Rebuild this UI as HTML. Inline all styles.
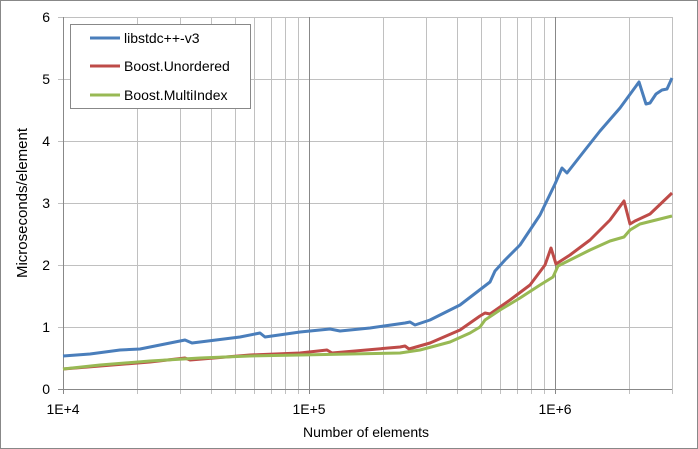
<!DOCTYPE html>
<html><head><meta charset="utf-8"><style>body{margin:0;background:#fff}svg{display:block;font-family:"Liberation Sans",sans-serif}</style></head><body>
<svg width="698" height="449" viewBox="0 0 698 449" xmlns="http://www.w3.org/2000/svg">
<rect x="0.5" y="0.5" width="697" height="448" fill="#fff" stroke="#888"/>
<g stroke="#c0c0c0" stroke-width="1">
<line x1="137.5" y1="17" x2="137.5" y2="394"/><line x1="180.5" y1="17" x2="180.5" y2="394"/><line x1="211.5" y1="17" x2="211.5" y2="394"/><line x1="235.5" y1="17" x2="235.5" y2="394"/><line x1="254.5" y1="17" x2="254.5" y2="394"/><line x1="271.5" y1="17" x2="271.5" y2="394"/><line x1="285.5" y1="17" x2="285.5" y2="394"/><line x1="298.5" y1="17" x2="298.5" y2="394"/>
<line x1="383.5" y1="17" x2="383.5" y2="394"/><line x1="426.5" y1="17" x2="426.5" y2="394"/><line x1="457.5" y1="17" x2="457.5" y2="394"/><line x1="481.5" y1="17" x2="481.5" y2="394"/><line x1="500.5" y1="17" x2="500.5" y2="394"/><line x1="517.5" y1="17" x2="517.5" y2="394"/><line x1="531.5" y1="17" x2="531.5" y2="394"/><line x1="544.5" y1="17" x2="544.5" y2="394"/>
<line x1="629.5" y1="17" x2="629.5" y2="394"/><line x1="672.5" y1="17" x2="672.5" y2="394"/>
<line x1="58" y1="17.5" x2="672" y2="17.5"/><line x1="58" y1="79.5" x2="672" y2="79.5"/><line x1="58" y1="141.5" x2="672" y2="141.5"/><line x1="58" y1="203.5" x2="672" y2="203.5"/><line x1="58" y1="265.5" x2="672" y2="265.5"/><line x1="58" y1="327.5" x2="672" y2="327.5"/>
</g>
<g stroke="#888" stroke-width="1">
<line x1="309.5" y1="17" x2="309.5" y2="394"/><line x1="555.5" y1="17" x2="555.5" y2="394"/>
<line x1="63.5" y1="17" x2="63.5" y2="394"/><line x1="58" y1="389.5" x2="672" y2="389.5"/>
</g>
<g fill="none" stroke-width="3" stroke-linejoin="round">
<polyline stroke="#4a7ebb" points="63,356 90,354 120,350 140,349 170,343 185,340 192,343 200,342 240,337 260,333 265,337 300,332 330,329 340,331 370,328 405,323 410,322 415,325 430,320 460,305 490,282 495,271 505,260 520,245 540,215 555,184 562,168 567,173 585,150 600,131 620,108 639,82 646,104 650,103 656,94 662,90 667,89 672,78"/>
<polyline stroke="#be4b48" points="63,369 100,366 150,362 185,358 190,360 250,355 300,353 327,350 332,353 400,347 405,346 409,349 430,343 460,330 480,316 485,313 490,314 510,300 530,285 545,265 551,248 556,264 570,255 590,240 610,220 624,201 630,224 635,221 650,214 672,193"/>
<polyline stroke="#98b954" points="63,369 100,365 150,361 200,358 250,356 300,355 350,354 400,353 420,350 450,342 470,333 480,327 485,320 500,310 520,298 540,285 553,277 558,266 570,260 590,250 610,241 624,237 630,230 640,224 660,219 672,216"/>
</g>
<g font-size="14" fill="#000" text-anchor="end">
<text x="50" y="22">6</text><text x="50" y="84">5</text><text x="50" y="146">4</text><text x="50" y="208">3</text><text x="50" y="270">2</text><text x="50" y="332">1</text><text x="50" y="394">0</text>
</g>
<g font-size="14" text-anchor="middle">
<text x="63" y="414">1E+4</text><text x="309" y="414">1E+5</text><text x="555" y="414">1E+6</text>
<text x="366" y="437">Number of elements</text>
<text transform="translate(27,203) rotate(-90)" font-size="15">Microseconds/element</text>
</g>
<rect x="70.5" y="24.5" width="180" height="84" fill="#fff" stroke="#888"/>
<g stroke-width="3"><line x1="90" y1="38" x2="120" y2="38" stroke="#4a7ebb"/><line x1="90" y1="66" x2="120" y2="66" stroke="#be4b48"/><line x1="90" y1="95" x2="120" y2="95" stroke="#98b954"/></g>
<g font-size="14"><text x="124" y="43">libstdc++-v3</text><text x="124" y="71">Boost.Unordered</text><text x="124" y="100">Boost.MultiIndex</text></g>
</svg>
</body></html>
